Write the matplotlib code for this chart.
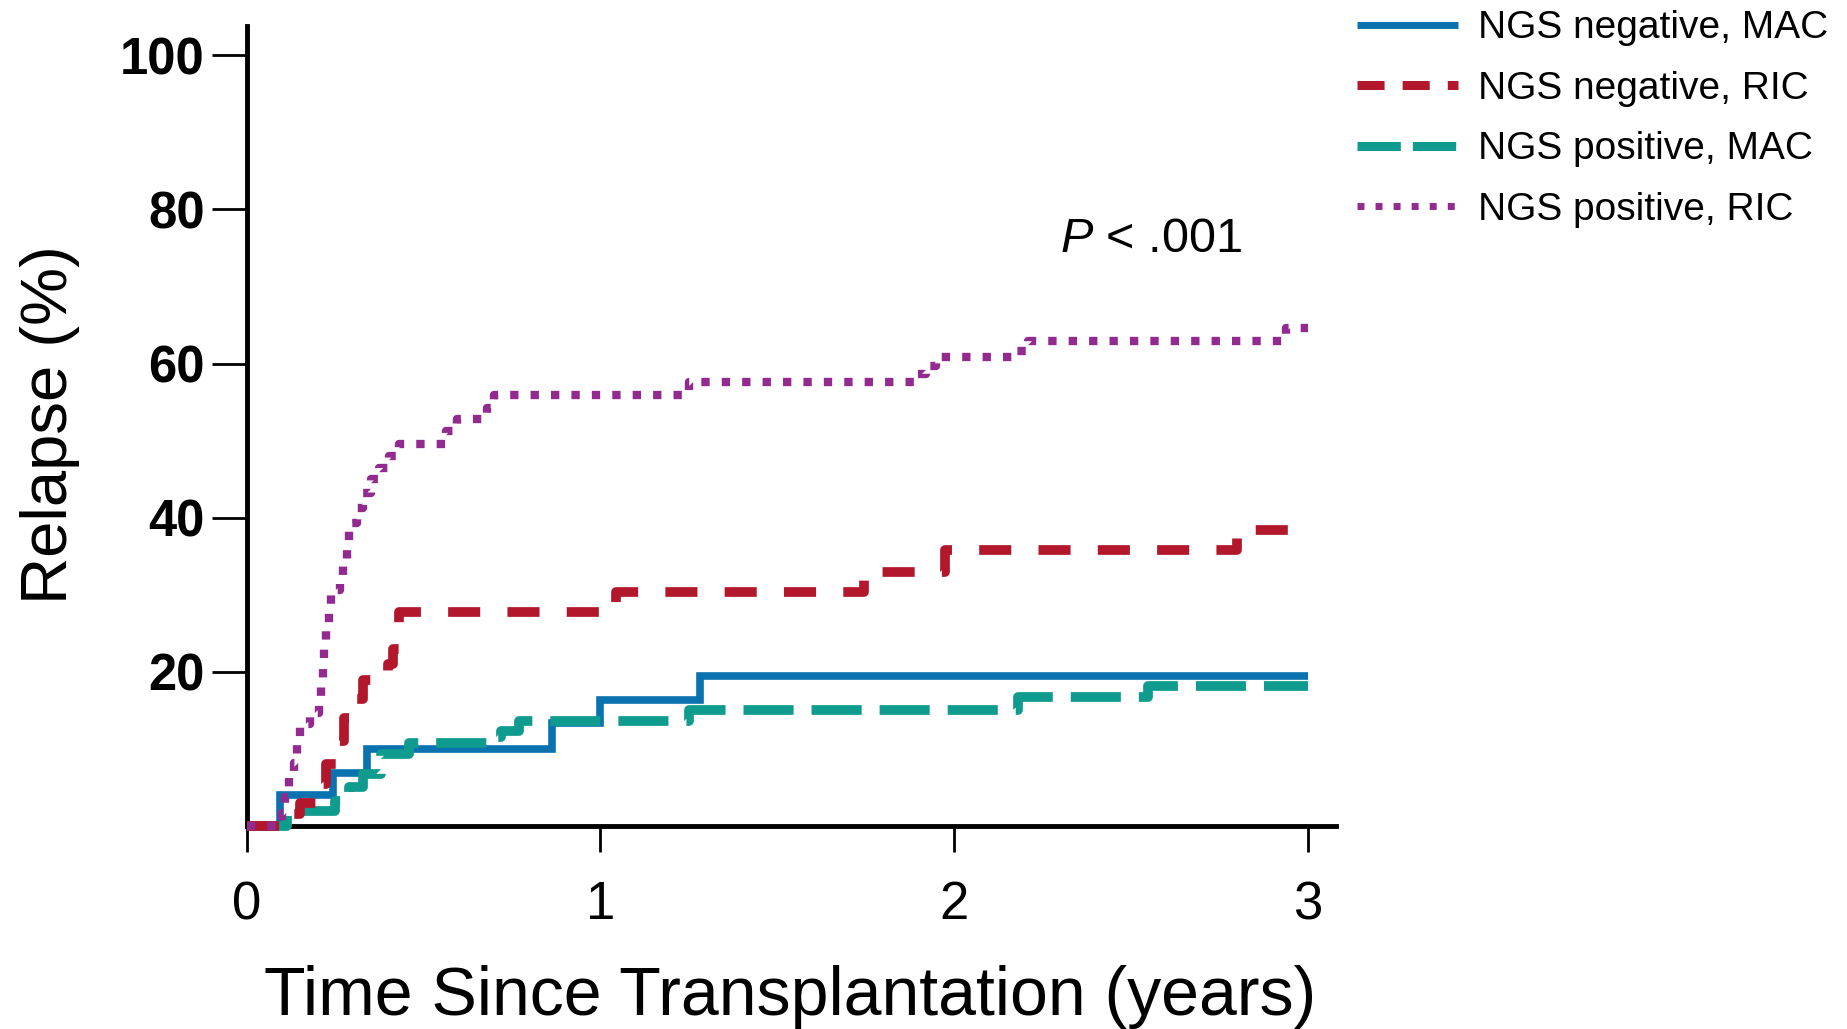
import numpy as np
import matplotlib
matplotlib.use("Agg")
import matplotlib.pyplot as plt
from matplotlib.lines import Line2D

plt.rcParams["mathtext.fontset"] = "custom"
plt.rcParams["mathtext.it"] = "Liberation Sans:italic"
plt.rcParams["mathtext.rm"] = "Liberation Sans"

# Cumulative incidence of relapse (%) by group: event times (years) and levels
neg_mac_t = [0, 0.095, 0.245, 0.34, 0.863, 1.0, 1.282]
neg_mac_v = [0, 4.05, 6.9, 10.0, 13.4, 16.4, 19.5]

neg_ric_t = [0, 0.13, 0.15, 0.215, 0.225, 0.26, 0.275, 0.30, 0.33, 0.40, 0.415,
             0.43, 1.045, 1.745, 1.975, 2.80]
neg_ric_v = [0, 1.5, 3.0, 5.5, 8.0, 11.0, 14.0, 16.5, 19.0, 21.0, 23.0,
             27.8, 30.4, 33.0, 35.8, 38.4]

pos_mac_t = [0, 0.115, 0.25, 0.29, 0.33, 0.38, 0.46, 0.68, 0.72, 0.77, 1.25,
             2.18, 2.55]
pos_mac_v = [0, 1.9, 3.2, 5.1, 6.7, 9.3, 10.8, 11.6, 12.3, 13.6, 15.1,
             16.7, 18.2]

pos_ric_t = [0, 0.10, 0.11, 0.12, 0.135, 0.143, 0.15, 0.18, 0.205, 0.211,
             0.215, 0.219, 0.225, 0.232, 0.240, 0.265, 0.272, 0.283, 0.291, 0.312,
             0.328, 0.352, 0.376, 0.402, 0.43, 0.565, 0.595, 0.68, 0.70, 1.25,
             1.89, 1.92, 1.95, 2.17, 2.21, 2.94]
pos_ric_v = [0, 1.7, 3.8, 6.2, 8.2, 10.8, 13.2, 14.7, 16.0, 18.4,
             21.0, 23.6, 25.8, 28.2, 30.6, 32.4, 34.7, 37.0, 39.3, 41.3,
             43.2, 45.0, 46.5, 48.0, 49.5, 51.3, 52.8, 54.2, 55.9, 57.6,
             58.6, 59.7, 60.9, 61.6, 62.9, 64.6]

labels = ["NGS negative, MAC", "NGS negative, RIC",
          "NGS positive, MAC", "NGS positive, RIC"]
x_ticks = [0, 1, 2, 3]
y_ticks = [20, 40, 60, 80, 100]
follow_up = 3.0

c_blue = "#0b72b0"
c_red = "#b2172b"
c_teal = "#0f9b8e"
c_purple = "#932a8f"

sans = ["Liberation Sans", "DejaVu Sans"]

W, H = 1847, 1029
fig = plt.figure(figsize=(W / 100, H / 100), dpi=100)
ax = fig.add_axes([246.5 / W, 203 / H, 1089.4 / W, 800 / H])
ax.set_xlim(0, 3.08)
ax.set_ylim(0, 103.8)


def extend(t, v):
    return np.append(t, follow_up), np.append(v, v[-1])


series = [
    (neg_mac_t, neg_mac_v, dict(color=c_blue, lw=5.5, ls="-")),
    (pos_mac_t, pos_mac_v, dict(color=c_teal, lw=7.0, ls=(0, (5.15, 1.85)))),
    (neg_ric_t, neg_ric_v, dict(color=c_red, lw=7.0, ls=(0, (3.3, 2.8)))),
    (pos_ric_t, pos_ric_v, dict(color=c_purple, lw=6.0, ls=(0, (1.0, 1.45)))),
]
for i, (t, v, st) in enumerate(series):
    tt, vv = extend(t, v)
    ax.step(tt, vv, where="post", clip_on=False, zorder=3 + i,
            solid_capstyle="butt", dash_capstyle="butt",
            solid_joinstyle="miter", **st)

for side in ["top", "right"]:
    ax.spines[side].set_visible(False)
for side in ["left", "bottom"]:
    ax.spines[side].set_linewidth(3.5)
    ax.spines[side].set_zorder(2)

ax.set_yticks(y_ticks)
ax.set_yticklabels([str(v) for v in y_ticks], fontfamily=sans, fontsize=36.5,
                   fontweight="bold")
ax.set_xticks(x_ticks)
ax.set_xticklabels([str(v) for v in x_ticks], fontfamily=sans, fontsize=38)
ax.tick_params(axis="y", length=25, width=2, pad=5, direction="out")
ax.tick_params(axis="x", length=19, width=2, pad=20, direction="out")

fig.text(790 / W, 1 - 1015 / H, "Time Since Transplantation (years)",
         ha="center", va="baseline", fontsize=49, family=sans)
fig.text(50 / W, 1 - 425 / H, "Relapse (%)", rotation=90,
         ha="center", va="center", fontsize=47, family=sans)

ax.text(2.30, 74.5, "$P$ < .001", fontsize=35, family=sans,
        ha="left", va="baseline")

handles = [
    Line2D([], [], color=c_blue, lw=5.0, ls="-", solid_capstyle="butt"),
    Line2D([], [], color=c_red, lw=6.5, ls=(0, (3.0, 2.0))),
    Line2D([], [], color=c_teal, lw=6.5, ls=(0, (4.8, 1.33))),
    Line2D([], [], color=c_purple, lw=5.0, ls=(0, (1.0, 1.6))),
]
fig.legend(handles, labels, loc="upper left",
           bbox_to_anchor=(1357 / W, 0.990), bbox_transform=fig.transFigure,
           frameon=False, prop={"family": sans, "size": 28},
           handlelength=2.6, handletextpad=0.5, labelspacing=0.63,
           borderpad=0, borderaxespad=0)

fig.savefig("out.png", dpi=100)
